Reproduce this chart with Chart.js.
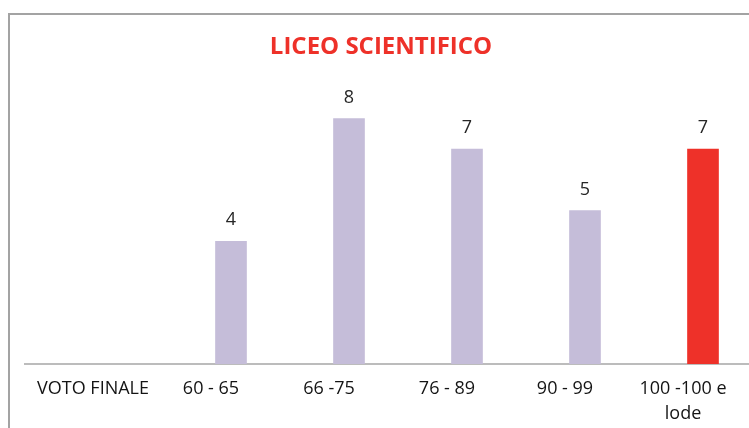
<!DOCTYPE html>
<html lang="it">

<head>
    <meta charset="UTF-8">
    <title>Liceo Scientifico</title>
    <style>
        html, body { margin: 0; padding: 0; background: #fff; overflow: hidden; width: 749px; height: 428px; }
        .frame { position: absolute; left: 8px; top: 13px; width: 900px; height: 600px; border: 2px solid #a3a3a3; }
        .wrap { position: absolute; left: 0; top: 0; width: 766px; height: 428px; }
    </style>
</head>

<body>
    <div class="frame"></div>
    <div class="wrap"><canvas id="votoChart"></canvas></div>

    <script src="https://cdn.jsdelivr.net/npm/chart.js@4.4.4/dist/chart.umd.min.js"></script>
    <script>
        // categorie e valori
        const categories = ['VOTO FINALE', '60 - 65', '66 -75', '76 - 89', '90 - 99', ['100 -100 e', 'lode']];
        const studenti = [null, 4, 8, 7, 5, 7];
        const barColors = ['#c5bdd9', '#c5bdd9', '#c5bdd9', '#c5bdd9', '#c5bdd9', '#ee3129'];

        // numeri sopra le barre
        const valueLabels = {
            id: 'valueLabels',
            afterDatasetsDraw(chart) {
                const ctx = chart.ctx;
                const meta = chart.getDatasetMeta(0);
                ctx.save();
                ctx.font = '18px "Open Sans"';
                ctx.fillStyle = '#262626';
                ctx.textAlign = 'center';
                ctx.textBaseline = 'middle';
                meta.data.forEach((bar, i) => {
                    if (studenti[i] == null) return;
                    ctx.fillText(String(studenti[i]), bar.x, bar.y - 21);
                });
                ctx.restore();
            }
        };

        // asse orizzontale un po' più lungo a sinistra
        const baseLine = {
            id: 'baseLine',
            beforeDatasetsDraw(chart) {
                const { ctx, chartArea } = chart;
                ctx.save();
                ctx.strokeStyle = '#a6a6a6';
                ctx.lineWidth = 1.5;
                ctx.beginPath();
                ctx.moveTo(chartArea.left - 30, chartArea.bottom);
                ctx.lineTo(chartArea.right, chartArea.bottom);
                ctx.stroke();
                ctx.restore();
            }
        };

        const votoCtx = document.getElementById('votoChart').getContext('2d');
        new Chart(votoCtx, {
            type: 'bar',
            data: {
                labels: categories,
                datasets: [{
                    label: 'Liceo Scientifico',
                    data: studenti,
                    backgroundColor: barColors,
                    barThickness: 31
                }]
            },
            options: {
                responsive: true,
                maintainAspectRatio: false,
                animation: false,
                layout: { padding: { left: 0, right: 4, top: 0, bottom: 0 } },
                plugins: {
                    legend: { display: false },
                    tooltip: { enabled: false },
                    title: {
                        display: true,
                        text: 'LICEO SCIENTIFICO',
                        color: '#ee3129',
                        font: { family: '"Open Sans"', size: 24, weight: 'bold', lineHeight: 1.2 },
                        padding: { top: 33, bottom: 26 }
                    }
                },
                scales: {
                    x: {
                        grid: { display: false, drawTicks: false },
                        border: { display: false },
                        ticks: {
                            color: '#141414',
                            font: { family: '"Open Sans"', size: 18, lineHeight: 1.35 },
                            padding: 13,
                            labelOffset: -20,
                            maxRotation: 0,
                            autoSkip: false
                        },
                        afterFit(scale) { scale.height = 64; }
                    },
                    y: {
                        min: 0,
                        max: 9,
                        grid: { display: false },
                        border: { display: false },
                        ticks: { display: false },
                        afterFit(scale) { scale.width = 54; }
                    }
                }
            },
            plugins: [baseLine, valueLabels]
        });
    </script>
</body>

</html>
